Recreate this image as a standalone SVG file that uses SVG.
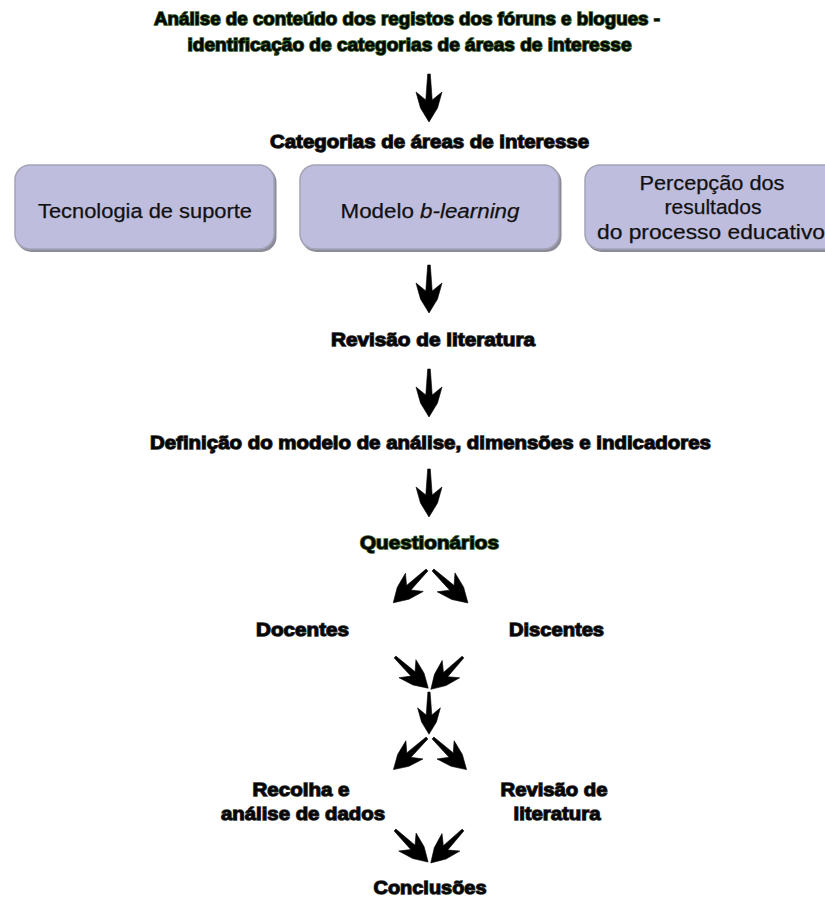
<svg xmlns="http://www.w3.org/2000/svg" width="825" height="898" viewBox="0 0 825 898">
<style>
.t{font-family:"Liberation Sans",Arial,sans-serif;font-weight:bold;font-size:18.5px;fill:#050505;stroke:#333;stroke-width:1.3px;paint-order:stroke;text-anchor:middle}
.g{stroke:#2f5a22;stroke-width:1.6px}
.b{font-family:"Liberation Sans",Arial,sans-serif;font-size:20.5px;fill:#111;stroke:#111;stroke-width:0.25px;text-anchor:middle}
.box{fill:#bfbddd;stroke:#a3a3b6;stroke-width:1.5}
.sh{fill:#8c8c98}
.arr{fill:#000;stroke:#000;stroke-width:0.6;stroke-linejoin:round}
</style>
<defs>
<path id="a" class="arr" d="M -1.3,0 L 1.3,0 L 3.2,26 L 13,18 L 8.5,34 L 0,48 L -8.5,34 L -13,18 L -3.2,26 Z"/>
</defs>
<g id="title">
<text class="t g" x="407" y="25" textLength="506" lengthAdjust="spacingAndGlyphs">Análise de conteúdo dos registos dos fóruns e blogues -</text>
<text class="t g" x="409.5" y="51" textLength="444" lengthAdjust="spacingAndGlyphs">identificação de categorias de áreas de interesse</text>
</g>
<g id="categorias">
<text class="t" x="429.5" y="148" textLength="319" lengthAdjust="spacingAndGlyphs">Categorias de áreas de interesse</text>
</g>
<g id="box1">
<rect class="sh" x="16.5" y="167" width="260" height="85" rx="15"/>
<rect class="box" x="15" y="165" width="259" height="84" rx="15"/>
<text class="b" x="145" y="218" textLength="214" lengthAdjust="spacingAndGlyphs">Tecnologia de suporte</text>
</g>
<g id="box2">
<rect class="sh" x="301.5" y="167" width="260" height="85" rx="15"/>
<rect class="box" x="300" y="165" width="259" height="84" rx="15"/>
<text class="b" x="430" y="218" textLength="179" lengthAdjust="spacingAndGlyphs">Modelo <tspan font-style="italic">b-learning</tspan></text>
</g>
<g id="box3">
<rect class="sh" x="586.5" y="167" width="260" height="85" rx="15"/>
<rect class="box" x="585" y="165" width="259" height="84" rx="15"/>
<text class="b" x="712" y="190" textLength="145" lengthAdjust="spacingAndGlyphs">Percepção dos</text>
<text class="b" x="713" y="214" textLength="97" lengthAdjust="spacingAndGlyphs">resultados</text>
<text class="b" x="711" y="239" textLength="228" lengthAdjust="spacingAndGlyphs">do processo educativo</text>
</g>
<g id="revisao1">
<text class="t" x="433" y="346" textLength="204" lengthAdjust="spacingAndGlyphs">Revisão de literatura</text>
</g>
<g id="definicao">
<text class="t" x="430.5" y="449" textLength="561" lengthAdjust="spacingAndGlyphs">Definição do modelo de análise, dimensões e indicadores</text>
</g>
<g id="questionarios">
<text class="t g" x="429.5" y="549" textLength="139" lengthAdjust="spacingAndGlyphs">Questionários</text>
</g>
<g id="docentes">
<text class="t" x="302.5" y="636" textLength="93" lengthAdjust="spacingAndGlyphs">Docentes</text>
</g>
<g id="discentes">
<text class="t" x="556.5" y="636" textLength="95" lengthAdjust="spacingAndGlyphs">Discentes</text>
</g>
<g id="recolha">
<text class="t" x="301" y="796" textLength="97" lengthAdjust="spacingAndGlyphs">Recolha e</text>
<text class="t" x="303" y="820" textLength="164" lengthAdjust="spacingAndGlyphs">análise de dados</text>
</g>
<g id="revisao2">
<text class="t" x="554" y="796" textLength="107" lengthAdjust="spacingAndGlyphs">Revisão de</text>
<text class="t" x="557" y="820" textLength="87" lengthAdjust="spacingAndGlyphs">literatura</text>
</g>
<g id="conclusoes">
<text class="t" x="430" y="894" textLength="113" lengthAdjust="spacingAndGlyphs">Conclusões</text>
</g>
<g id="connectors">
<use href="#a" transform="translate(429,74)"/>
<use href="#a" transform="translate(429,265)"/>
<use href="#a" transform="translate(429,369)"/>
<use href="#a" transform="translate(429,469)"/>
<use href="#a" transform="translate(427,570) rotate(45.8) scale(0.98)"/>
<use href="#a" transform="translate(433,570) rotate(-46.7) scale(1.0)"/>
<use href="#a" transform="translate(395,657) rotate(-46.8) scale(0.95)"/>
<use href="#a" transform="translate(463,657) rotate(44.8) scale(0.95)"/>
<use href="#a" transform="translate(429,692) scale(0.88)"/>
<use href="#a" transform="translate(427,738) rotate(46.7) scale(0.96)"/>
<use href="#a" transform="translate(433,738) rotate(-46.7) scale(0.96)"/>
<use href="#a" transform="translate(395,830) rotate(-45.9) scale(0.96)"/>
<use href="#a" transform="translate(463,830) rotate(44.4) scale(0.96)"/>
</g>
</svg>
